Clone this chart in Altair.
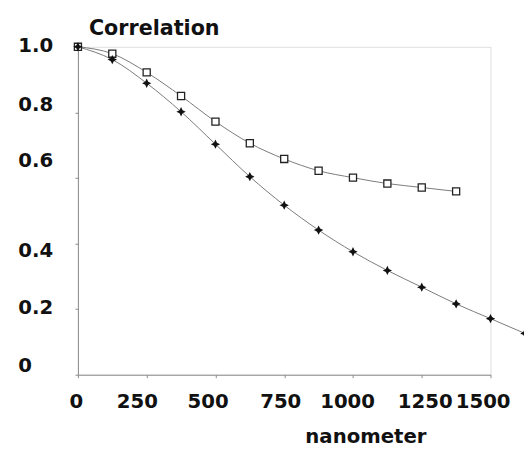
import altair as alt
import pandas as pd

# x positions (nanometer)
nm_square = [0, 125, 250, 375, 500, 625, 750, 875, 1000, 1125, 1250, 1375]
corr_square = [1.00, 0.979, 0.922, 0.850, 0.772, 0.706, 0.658, 0.622, 0.601, 0.583, 0.571, 0.559]

nm_star = [0, 125, 250, 375, 500, 625, 750, 875, 1000, 1125, 1250, 1375, 1500, 1625]
corr_star = [1.00, 0.961, 0.889, 0.802, 0.703, 0.604, 0.517, 0.441, 0.375, 0.318, 0.267, 0.216, 0.171, 0.126]

x_ticks = [0, 250, 500, 750, 1000, 1250, 1500]
y_ticks = [0, 0.2, 0.4, 0.6, 0.8, 1.0]

df_sq = pd.DataFrame({"nm": nm_square, "corr": corr_square})
df_st = pd.DataFrame({"nm": nm_star, "corr": corr_star})

FONT = "DejaVu Sans"
AXIS_GRAY = "#8a8a8a"
LINE_GRAY = "#7a7a7a"

# irregular label placement of the original figure
x_label_offset = {
    "condition": [
        {"test": "datum.value == 0", "value": -2},
        {"test": "datum.value == 250", "value": -10},
        {"test": "datum.value == 500", "value": -8},
        {"test": "datum.value == 750", "value": -4},
        {"test": "datum.value == 1000", "value": -6},
        {"test": "datum.value == 1250", "value": 3},
        {"test": "datum.value == 1500", "value": -8},
    ],
    "value": 0,
}
y_label_offset = {
    "condition": [
        {"test": "datum.value == 1", "value": -1},
        {"test": "datum.value == 0.8", "value": -8},
        {"test": "datum.value == 0.6", "value": -18},
        {"test": "datum.value == 0.4", "value": 7},
        {"test": "datum.value == 0.2", "value": -2},
        {"test": "datum.value == 0", "value": -9},
    ],
    "value": 0,
}

x_enc = alt.X(
    "nm:Q",
    scale=alt.Scale(domain=[0, 1500], nice=False, zero=True),
    axis=alt.Axis(
        values=x_ticks,
        format="d",
        title="nanometer",
        grid=False,
        domainColor=AXIS_GRAY,
        tickColor=AXIS_GRAY,
        tickSize=3,
        labelFont=FONT,
        labelFontSize=20,
        labelFontWeight="bold",
        labelColor="#111111",
        labelPadding=14,
        labelOffset=x_label_offset,
        labelFlush=False,
        labelOverlap=False,
        titleFont=FONT,
        titleFontSize=20,
        titleFontWeight="bold",
        titleColor="#111111",
        titleX=292,
        titleY=69,
        titleAlign="center",
        titleBaseline="alphabetic",
    ),
)

y_enc = alt.Y(
    "corr:Q",
    scale=alt.Scale(domain=[0, 1], nice=False),
    axis=alt.Axis(
        values=y_ticks,
        labelExpr="datum.value == 0 ? '0' : format(datum.value, '.1f')",
        title="Correlation",
        grid=False,
        domainColor=AXIS_GRAY,
        tickColor=AXIS_GRAY,
        tickSize=3,
        labelFont=FONT,
        labelFontSize=20,
        labelFontWeight="bold",
        labelColor="#111111",
        labelAlign="left",
        labelBaseline="middle",
        labelPadding=58,
        labelOffset=y_label_offset,
        labelFlush=False,
        labelOverlap=False,
        titleFont=FONT,
        titleFontSize=21,
        titleFontWeight="bold",
        titleColor="#111111",
        titleAngle=0,
        titleX=77,
        titleY=-19,
        titleAlign="center",
        titleBaseline="middle",
    ),
)

STAR = "M0,-1L0.33,-0.33L1,0L0.33,0.33L0,1L-0.33,0.33L-1,0L-0.33,-0.33Z"

line_sq = alt.Chart(df_sq).mark_line(
    color=LINE_GRAY, strokeWidth=1, interpolate="monotone", clip=False
).encode(x=x_enc, y=y_enc)

pts_sq = alt.Chart(df_sq).mark_point(
    shape="square", size=52, filled=True, fill="white", stroke="#222222",
    strokeWidth=1.3, opacity=1, clip=False
).encode(x="nm:Q", y="corr:Q")

line_st = alt.Chart(df_st).mark_line(
    color=LINE_GRAY, strokeWidth=1, interpolate="monotone", clip=False
).encode(x="nm:Q", y="corr:Q")

pts_st = alt.Chart(df_st).mark_point(
    shape=STAR, size=90, filled=True, color="#111111", opacity=1, clip=False
).encode(x="nm:Q", y="corr:Q")

chart = alt.layer(line_sq, line_st, pts_sq, pts_st).properties(
    width=419,
    height=333,
    padding={"left": 71, "top": 36, "right": 34, "bottom": 71},
    autosize=alt.AutoSizeParams(type="none"),
).configure_view(stroke=None).configure(background="white")

chart.save("out.html", embed_options={"renderer": "svg", "actions": False})
